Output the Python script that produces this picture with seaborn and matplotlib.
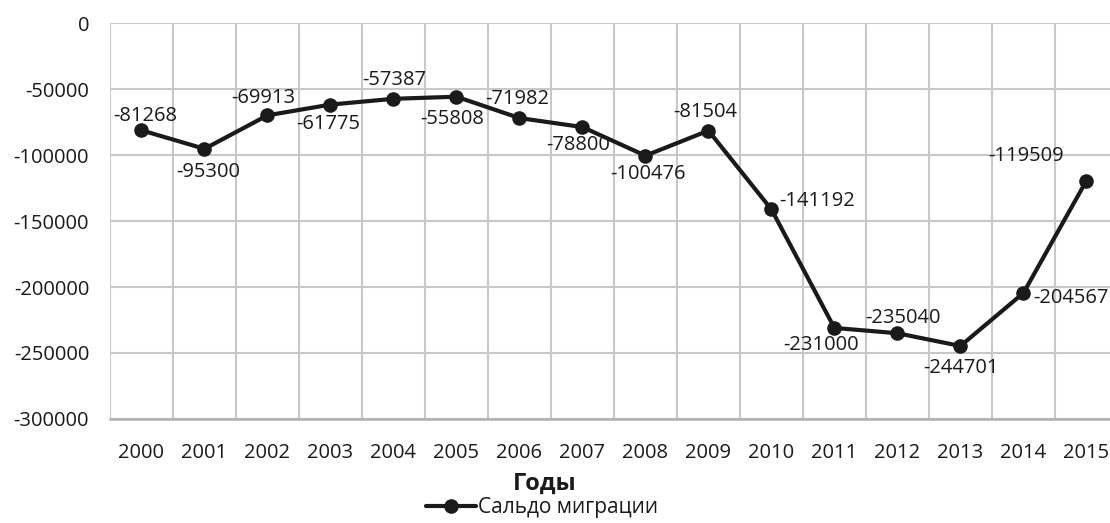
import numpy as np
import pandas as pd
import matplotlib
matplotlib.use("Agg")
import matplotlib.pyplot as plt
import seaborn as sns

# Data
years = ["2000", "2001", "2002", "2003", "2004", "2005", "2006", "2007",
         "2008", "2009", "2010", "2011", "2012", "2013", "2014", "2015"]
balance = [-81268, -95300, -69913, -61775, -57387, -55808, -71982, -78800,
           -100476, -81504, -141192, -231000, -235040, -244701, -204567, -119509]
y_ticks = [0, -50000, -100000, -150000, -200000, -250000, -300000]
series_name = "Сальдо миграции"

# label offsets (pixels) for each data label, like Excel placed them
label_dx = [4, 4, -4, -2, 1, -4, -2, -4, 3, -3, 46, -13, 6, 1, 48, -60]
label_dy = [14, -23, 17, -19, 19, -22, 19, -18, -18, 19, 8, -17, 15, -22, -5, 25]

df = pd.DataFrame({"year": years, "value": balance})
df["pos"] = np.arange(len(df))

sns.set_style("white")
plt.rcParams["font.family"] = ["Open Sans", "DejaVu Sans"]

fig = plt.figure(figsize=(11.1, 5.23), dpi=100)
ax = fig.add_axes([0.0991, 0.1989, 0.908, 0.757])

sns.lineplot(data=df, x="pos", y="value", ax=ax, color="#1a1a1a",
             linewidth=3, marker="o", markersize=10.5, markeredgewidth=0,
             label=series_name, legend=False)

for i, row in df.iterrows():
    ax.annotate(str(row["value"]), (row["pos"], row["value"]),
                xytext=(label_dx[i], label_dy[i]), textcoords="offset pixels",
                ha="center", va="center", fontsize=14.5, color="#1a1a1a")

ax.set_xlim(-0.5, len(years) - 0.5)
ax.set_ylim(-300000, 0)
ax.set_yticks(y_ticks)
ax.set_yticklabels([str(v) for v in y_ticks], fontsize=14.5, color="#1a1a1a")
ax.set_xticks(df["pos"])
ax.set_xticklabels(years, fontsize=14.5, color="#1a1a1a")
ax.set_xticks(np.arange(-0.5, len(years), 1.0), minor=True)
ax.tick_params(axis="x", which="both", length=0, pad=17)
ax.tick_params(axis="y", length=0, pad=15)

ax.grid(False)
ax.grid(axis="y", which="major", color="#c8c8c8", linewidth=1.5)
ax.grid(axis="x", which="minor", color="#c8c8c8", linewidth=1.5)
for side in ["top", "right", "left"]:
    ax.spines[side].set_visible(False)
ax.spines["bottom"].set_color("#b0b0b0")
ax.spines["bottom"].set_linewidth(1.8)

ax.set_xlabel("")
ax.set_ylabel("")
fig.text(545 / 1110, 1 - 484 / 523, "Годы", ha="center", va="center",
         fontsize=17, fontweight="bold", color="#1a1a1a")

handles, labels = ax.get_legend_handles_labels()
fig.legend(handles, labels, loc="center", bbox_to_anchor=(542 / 1110, 1 - 508 / 523),
           frameon=False, fontsize=15, handlelength=2.4, handletextpad=0.1,
           borderpad=0, labelcolor="#1a1a1a")

fig.savefig("out.png", dpi=100)
